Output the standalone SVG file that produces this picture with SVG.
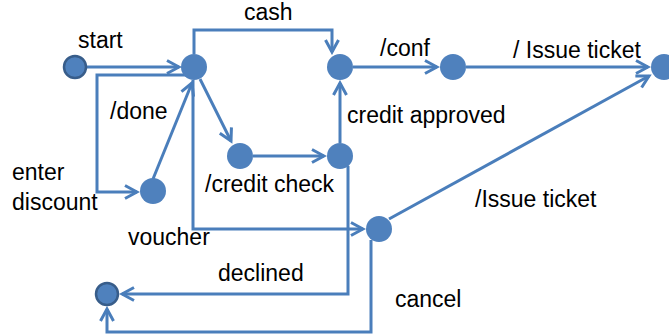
<svg xmlns="http://www.w3.org/2000/svg" width="669" height="334" viewBox="0 0 669 334">
  <style>
    .edge { fill: none; stroke: #4a7ebb; stroke-width: 3; marker-end: url(#arr); }
    .state { fill: #4f81bd; }
    .term { fill: #4f81bd; stroke: #385d8a; stroke-width: 2.5; }
    text { font-family: "Liberation Sans", Arial, sans-serif; font-size: 23px; fill: #000; }
  </style>
  <defs>
    <marker id="arr" markerUnits="userSpaceOnUse" markerWidth="18" markerHeight="18" viewBox="-15 -9 18 18" refX="0" refY="0" orient="auto">
      <path d="M-12,-6.5 L0,0 L-12,6.5" fill="none" stroke="#4a7ebb" stroke-width="3" stroke-linejoin="miter"/>
    </marker>
  </defs>

  <g id="connectors">
    <path class="edge" d="M86,67 L179,67"/>
    <path class="edge" d="M188,75 L97,75 L97,192 L137,192"/>
    <path class="edge" d="M153,179 L192,83"/>
    <path class="edge" d="M200,79 L231,141"/>
    <path class="edge" d="M194,54 L194,30 L332,30 L332,52"/>
    <path class="edge" d="M253,156 L324,156"/>
    <path class="edge" d="M340,143 L340,83"/>
    <path class="edge" d="M353,67 L437,67"/>
    <path class="edge" d="M466,67 L648,67"/>
    <path class="edge" d="M389,219 L649,76"/>
    <path class="edge" d="M193,80 L193,229 L363,229"/>
    <path class="edge" d="M348,166 L348,294 L122,294"/>
    <path class="edge" d="M371,240 L371,332 L107,332 L107,309"/>
  </g>

  <g id="start"><circle class="term" cx="75" cy="67" r="11"/></g>
  <g id="select"><circle class="state" cx="194" cy="67" r="13"/></g>
  <g id="paid"><circle class="state" cx="340" cy="67" r="13"/></g>
  <g id="confirmed"><circle class="state" cx="453" cy="67" r="13"/></g>
  <g id="ticketed"><circle class="state" cx="664" cy="67" r="13"/></g>
  <g id="checking"><circle class="state" cx="240" cy="156" r="13"/></g>
  <g id="checked"><circle class="state" cx="340" cy="156" r="13"/></g>
  <g id="discount"><circle class="state" cx="153" cy="191" r="13"/></g>
  <g id="voucher-state"><circle class="state" cx="379" cy="229" r="13"/></g>
  <g id="end"><circle class="term" cx="107" cy="294" r="11"/></g>

  <g id="labels">
    <text x="244" y="20">cash</text>
    <text x="78" y="48">start</text>
    <text x="110" y="119">/done</text>
    <text x="12" y="180">enter</text>
    <text x="12" y="210">discount</text>
    <text x="128" y="245">voucher</text>
    <text x="205" y="192">/credit check</text>
    <text x="218" y="281">declined</text>
    <text x="395" y="307">cancel</text>
    <text x="475" y="207">/Issue ticket</text>
    <text x="347" y="123">credit approved</text>
    <text x="380" y="56">/conf</text>
    <text x="513" y="58">/ Issue ticket</text>
  </g>
</svg>
